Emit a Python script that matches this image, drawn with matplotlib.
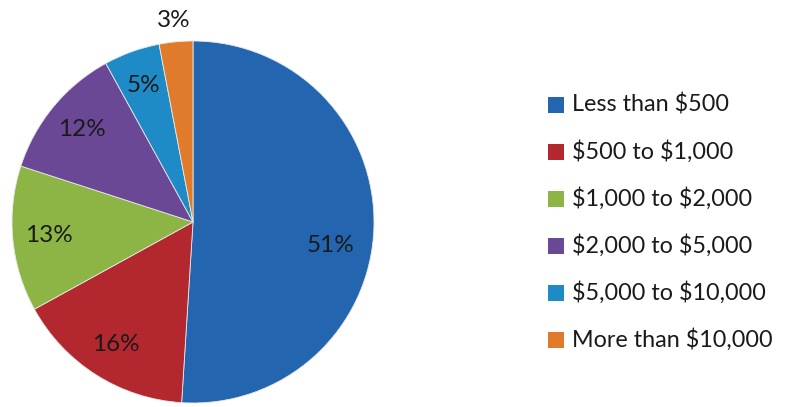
import matplotlib.pyplot as plt
from matplotlib.patches import Rectangle
import numpy as np

plt.rcParams['font.family'] = ['Lato', 'DejaVu Sans']
plt.rcParams['text.parse_math'] = False

categories = ['Less than $500', '$500 to $1,000', '$1,000 to $2,000',
              '$2,000 to $5,000', '$5,000 to $10,000', 'More than $10,000']
shares = [51, 16, 13, 12, 5, 3]
colors = ['#2465B0', '#B3282F', '#8CB545', '#6A4895', '#1E8AC6', '#E07B2C']

W, H = 786, 407
fig = plt.figure(figsize=(W / 100, H / 100), dpi=100)

# pie centre (193, 222) from top-left, radius 181 px
cx, cy, r = 193, H - 222, 181
ax = fig.add_axes([(cx - r) / W, (cy - r) / H, 2 * r / W, 2 * r / H])
wedges, _ = ax.pie(shares, colors=colors, startangle=90, counterclock=False,
                   radius=1.0, wedgeprops=dict(edgecolor='#e8e8e8', linewidth=0.6))
ax.set_xlim(-1, 1)
ax.set_ylim(-1, 1)
ax.set_aspect('equal')
ax.axis('off')

# percentage labels
for i, (w, s) in enumerate(zip(wedges, shares)):
    mid = np.deg2rad((w.theta1 + w.theta2) / 2)
    rad = 0.8
    if i == 0:
        mid = np.deg2rad(-9.5)
        rad = 0.77
    if s == 3:
        rad = 1.12
    ax.text(rad * np.cos(mid), rad * np.sin(mid), f'{s}%', ha='center', va='center',
            fontsize=17.5, color='#1a1a1a', clip_on=False)

# legend drawn by hand so the rows match the original spacing
for i, (lab, c) in enumerate(zip(categories, colors)):
    y = 1 - (105 + 47 * i) / H
    fig.patches.append(Rectangle((548 / W, y - 8 / H), 16 / W, 16 / H,
                                 transform=fig.transFigure, facecolor=c,
                                 edgecolor='none'))
    fig.text(572 / W, y, lab, ha='left', va='center', fontsize=16.8, color='#1a1a1a')

fig.savefig('out.png', dpi=100)
